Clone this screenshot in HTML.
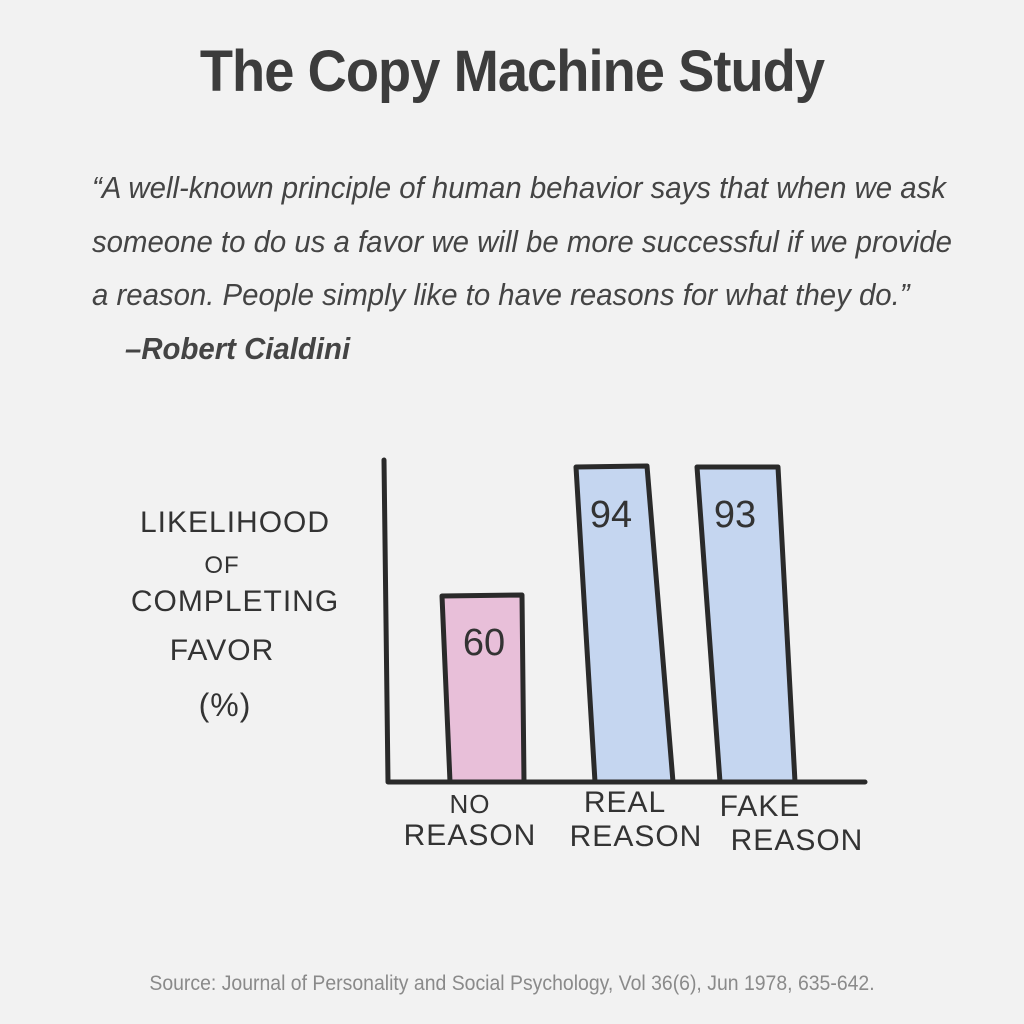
<!DOCTYPE html>
<html><head><style>
body{margin:0;width:1024px;height:1024px;background:#f2f2f2;overflow:hidden;position:relative;font-family:"Liberation Sans",sans-serif;color:#3c3c3c}
.t{position:absolute;left:0;width:1024px;text-align:center;top:38px;font-size:58px;font-weight:bold;letter-spacing:-1px;transform:scaleX(0.935)}
.q{position:absolute;left:92px;font-style:italic;font-size:31px;color:#444;white-space:nowrap;transform-origin:0 0;transform:scaleX(0.947)}
.s{position:absolute;left:0;width:1024px;text-align:center;top:972px;font-size:21px;color:#8a8a8a;transform:scaleX(0.925)}
</style></head><body>
<div class="t">The Copy Machine Study</div>
<div class="q" style="top:170px">“A well-known principle of human behavior says that when we ask</div>
<div class="q" style="top:224px">someone to do us a favor we will be more successful if we provide</div>
<div class="q" style="top:277px">a reason. People simply like to have reasons for what they do.”</div>
<div class="q" style="top:331px;left:125px;font-weight:bold">–Robert Cialdini</div>
<svg width="1024" height="1024" style="position:absolute;left:0;top:0" font-family="Liberation Sans, sans-serif" fill="#333">
<g stroke="#2a2a2a" stroke-width="5" stroke-linejoin="round" stroke-linecap="round">
<polygon points="442,596 522,595 524,782 450,782" fill="#e8bfd9"/>
<polygon points="576,467 647,466 673,782 595,782" fill="#c5d6f0"/>
<polygon points="697,467 778,467 795,782 720,782" fill="#c5d6f0"/>
<polyline points="384,460 388,782 865,782" fill="none"/>
</g>
<g font-size="38" text-anchor="middle" fill="#333">
<text x="484" y="655">60</text>
<text x="611" y="527">94</text>
<text x="735" y="527">93</text>
</g>
<g font-size="30" text-anchor="middle" fill="#333" letter-spacing="1">
<text x="235" y="532">LIKELIHOOD</text>
<text x="222" y="573" font-size="24">OF</text>
<text x="235" y="611">COMPLETING</text>
<text x="222" y="660">FAVOR</text>
<text x="225" y="716" font-size="32">(%)</text>
<text x="470" y="813" font-size="26">NO</text>
<text x="470" y="845">REASON</text>
<text x="625" y="812">REAL</text>
<text x="636" y="846">REASON</text>
<text x="760" y="816">FAKE</text>
<text x="797" y="850">REASON</text>
</g>
</svg>
<div class="s">Source: Journal of Personality and Social Psychology, Vol 36(6), Jun 1978, 635-642.</div>
</body></html>
